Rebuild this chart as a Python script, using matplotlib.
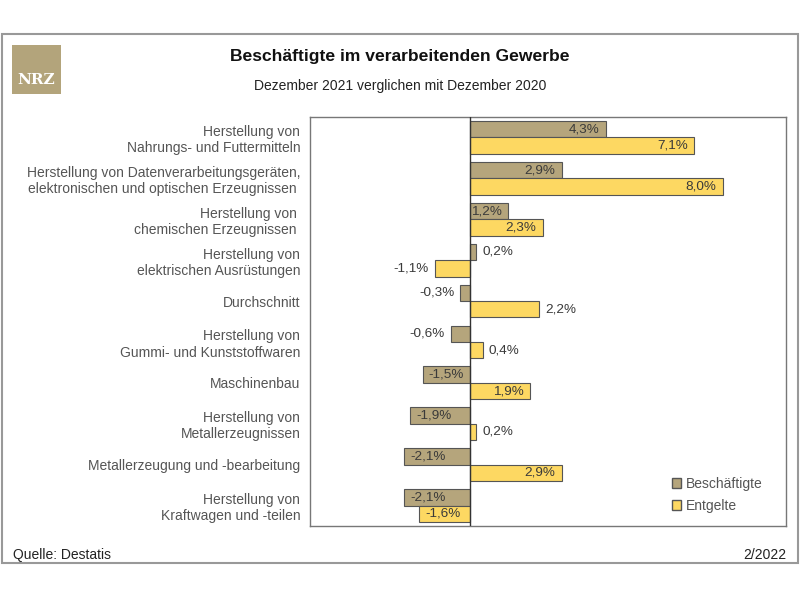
import matplotlib
matplotlib.use('Agg')
import matplotlib.pyplot as plt
from matplotlib.patches import Rectangle, Patch
import numpy as np

# Daten
kategorien = [
    'Herstellung von\nNahrungs- und Futtermitteln',
    'Herstellung von Datenverarbeitungsgeräten,\nelektronischen und optischen Erzeugnissen ',
    'Herstellung von \nchemischen Erzeugnissen ',
    'Herstellung von\nelektrischen Ausrüstungen',
    'Durchschnitt',
    'Herstellung von\nGummi- und Kunststoffwaren',
    'Maschinenbau',
    'Herstellung von\nMetallerzeugnissen',
    'Metallerzeugung und -bearbeitung',
    'Herstellung von\nKraftwagen und -teilen',
]
beschaeftigte = [4.3, 2.9, 1.2, 0.2, -0.3, -0.6, -1.5, -1.9, -2.1, -2.1]
entgelte = [7.1, 8.0, 2.3, -1.1, 2.2, 0.4, 1.9, 0.2, 2.9, -1.6]
# Beschriftung innerhalb des Balkens?
innen_b = [True, True, True, False, False, False, True, True, True, True]
innen_e = [True, True, True, False, False, False, True, False, True, True]

titel = 'Beschäftigte im verarbeitenden Gewerbe'
untertitel = 'Dezember 2021 verglichen mit Dezember 2020'
quelle = 'Quelle: Destatis'
datum = '2/2022'

farbe_b = '#b5a57c'
farbe_e = '#fdd862'
kante = '#555555'
normal = ['Liberation Sans', 'DejaVu Sans']

fig = plt.figure(figsize=(8, 6), dpi=100)

# Rahmen
fig.patches.append(Rectangle((2/800, 1-563/600), 796/800, 529/600, transform=fig.transFigure,
                             fill=False, edgecolor='#999999', linewidth=1.5))
# Logo
fig.patches.append(Rectangle((12/800, 1-94/600), 49/800, 49/600, transform=fig.transFigure,
                             facecolor='#b3a47b', edgecolor='none'))
fig.text(36.5/800, 1-80/600, 'NRZ', color='white', fontsize=11, fontweight='bold',
         family='DejaVu Serif', ha='center', va='center')

fig.text(0.5, 1-56/600, titel, ha='center', va='center', fontsize=12.6,
         fontweight='bold', family=normal, color='#111111')
fig.text(0.5, 1-86/600, untertitel, ha='center', va='center', fontsize=10, family=normal,
         color='#222222')
fig.text(13/800, 1-555/600, quelle, ha='left', va='center', fontsize=10, family=normal,
         color='#222222')
fig.text(786/800, 1-555/600, datum, ha='right', va='center', fontsize=10, family=normal,
         color='#222222')

ax = fig.add_axes([310/800, 1-526/600, 476/800, 409/600])
y = np.arange(len(kategorien))
h = 0.4
ax.barh(y - h/2, beschaeftigte, height=h, color=farbe_b, edgecolor=kante, linewidth=0.8,
        label='Beschäftigte', zorder=2)
ax.barh(y + h/2, entgelte, height=h, color=farbe_e, edgecolor=kante, linewidth=0.8,
        label='Entgelte', zorder=2)

ax.set_xlim(-5.06, 10.0)
ax.set_ylim(len(kategorien) - 0.5, -0.5)
ax.axvline(0, color='#333333', linewidth=1, zorder=3)

pad = 0.2
for werte, innen, off in [(beschaeftigte, innen_b, -h/2), (entgelte, innen_e, h/2)]:
    for i, (v, inn) in enumerate(zip(werte, innen)):
        txt = f'{v:.1f}%'.replace('.', ',')
        if v >= 0:
            x, ha = (v - pad, 'right') if inn else (v + pad, 'left')
        else:
            x, ha = (v + pad, 'left') if inn else (v - pad, 'right')
        ax.text(x, i + off, txt, ha=ha, va='center', fontsize=9.7, color='#3a3a3a',
                family=normal, zorder=4)

ax.set_yticks(y)
ax.set_yticklabels(kategorien, fontsize=10, color='#555555', family=normal, linespacing=1.2)
ax.tick_params(axis='y', length=0, pad=7)
ax.set_xticks([])
for s in ax.spines.values():
    s.set_color('#777777')
    s.set_linewidth(1)

ax.legend(handles=[Patch(facecolor=farbe_b, edgecolor=kante, label='Beschäftigte'),
                   Patch(facecolor=farbe_e, edgecolor=kante, label='Entgelte')],
          loc='center left', bbox_to_anchor=(659/800, 1-495/600), bbox_transform=fig.transFigure,
          frameon=False, handlelength=0.7, handleheight=0.7, handletextpad=0.3,
          labelspacing=0.6, prop={'family': normal, 'size': 10}, labelcolor='#555555')

fig.savefig('out.png', dpi=100)
